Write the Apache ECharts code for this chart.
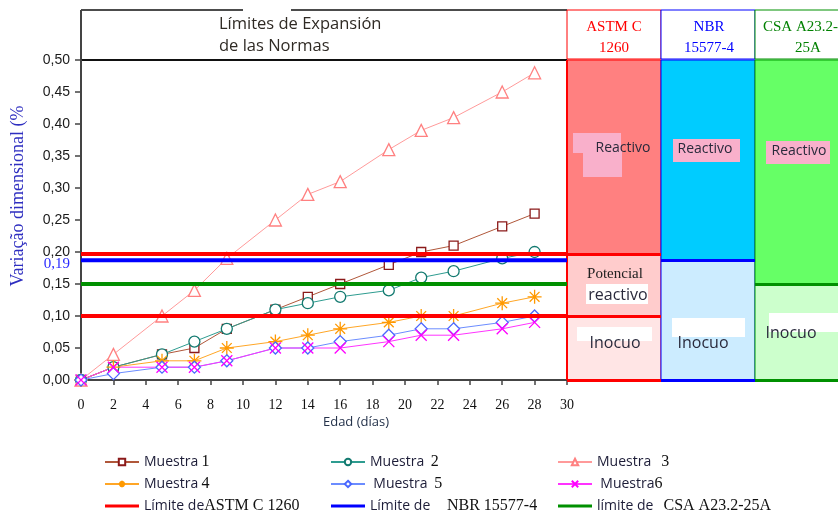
<!DOCTYPE html>
<html><head><meta charset="utf-8">
<script src="https://cdn.jsdelivr.net/npm/echarts@6/dist/echarts.min.js"></script>
<style>html,body{margin:0;padding:0;background:#fff}#c{width:838px;height:518px}</style>
</head><body><div id="c"></div>
<script>
// ---- data ----
const days = [0,2,5,7,9,12,14,16,19,21,23,26,28];
const muestra1 = [0,0.02,0.04,0.05,0.08,0.11,0.13,0.15,0.18,0.20,0.21,0.24,0.26];
const muestra2 = [0,0.02,0.04,0.06,0.08,0.11,0.12,0.13,0.14,0.16,0.17,0.19,0.20];
const muestra3 = [0,0.04,0.10,0.14,0.19,0.25,0.29,0.31,0.36,0.39,0.41,0.45,0.48];
const muestra4 = [0,0.02,0.03,0.03,0.05,0.06,0.07,0.08,0.09,0.10,0.10,0.12,0.13];
const muestra5 = [0,0.01,0.02,0.02,0.03,0.05,0.05,0.06,0.07,0.08,0.08,0.09,0.10];
const muestra6 = [0,0.02,0.02,0.02,0.03,0.05,0.05,0.05,0.06,0.07,0.07,0.08,0.09];
const astmLimits = [0.10, 0.197];
const nbrLimit = 0.187;
const csaLimit = 0.15;
const xMin = 0, xMax = 30, xStep = 2;
const yMin = 0, yMax = 0.5, yStep = 0.05;
const nbrLabel = '0,19';

const SANS = "'Open Sans', 'Noto Sans', sans-serif";
const SERIF = "'Liberation Serif', 'DejaVu Serif', serif";

const pairs = arr => days.map((d, i) => [d, arr[i]]);
const asterisk = 'path://M0,-10L0,10M-10,0L10,0M-7,-7L7,7M-7,7L7,-7';
const cross = 'path://M-10,-10L10,10M-10,10L10,-10';
const barIcon = 'path://M0,0L34,0L34,3L0,3Z';

function sample(name, arr, line, mark, symbol, size, filled) {
  return {
    name, type: 'line', data: pairs(arr), xAxisIndex: 0, yAxisIndex: 0,
    symbol, symbolSize: size, showAllSymbol: true,
    lineStyle: { color: line, width: 1 },
    itemStyle: { color: filled ? mark : '#fff', borderColor: mark, borderWidth: 1.3 },
    z: 3
  };
}
function limit(name, v, color, extra) {
  return Object.assign({
    name, type: 'line', data: [[xMin, v], [xMax, v]], xAxisIndex: 0, yAxisIndex: 0,
    symbol: 'none', lineStyle: { color, width: 4 }, itemStyle: { color }, z: 5
  }, extra || {});
}

const panelColors = {
  astm: ['#FFE5E5', '#FFCCCC', '#FF8080'],
  nbr: ['#CCECFF', '#00CCFF'],
  csa: ['#CCFFCC', '#66FF66']
};
function area(x0, x1, y0, y1, fill, border) {
  return [{ coord: [x0, y0], itemStyle: { color: fill, borderColor: border, borderWidth: 1, opacity: 1 } },
          { coord: [x1, y1] }];
}
function hline(x0, x1, y, color, w) {
  return [{ coord: [x0, y], lineStyle: { color, width: w, type: 'solid' } }, { coord: [x1, y] }];
}

const panelSeries = {
  type: 'line', xAxisIndex: 1, yAxisIndex: 1, data: [[0, 0]], symbol: 'none',
  lineStyle: { opacity: 0 }, silent: true, z: 1,
  markArea: {
    silent: true,
    data: [
      area(0, 1, yMin, astmLimits[0], panelColors.astm[0], '#FF0000'),
      area(0, 1, astmLimits[0], astmLimits[1], panelColors.astm[1], '#FF0000'),
      area(0, 1, astmLimits[1], yMax, panelColors.astm[2], '#FF0000'),
      area(1, 2, yMin, nbrLimit, panelColors.nbr[0], '#0000FF'),
      area(1, 2, nbrLimit, yMax, panelColors.nbr[1], '#0000FF'),
      area(2, 3, yMin, csaLimit, panelColors.csa[0], '#00A000'),
      area(2, 3, csaLimit, yMax, panelColors.csa[1], '#00A000')
    ]
  },
  markLine: {
    silent: true, symbol: 'none', label: { show: false },
    data: [
      hline(0, 1, astmLimits[0], '#FF0000', 3),
      hline(0, 1, astmLimits[1], '#FF0000', 3),
      hline(0, 1, yMin, '#FF0000', 3),
      hline(1, 2, nbrLimit, '#0000FF', 3),
      hline(1, 2, yMin, '#0000FF', 3),
      hline(2, 3, csaLimit, '#009000', 3),
      hline(2, 3, yMin, '#009000', 3),
      [{ coord: [0, yMin], lineStyle: { color: '#FF0000', width: 2, type: 'solid' } }, { coord: [0, yMax] }]
    ]
  }
};

const legendRich = {
  m: { fontFamily: SANS, fontSize: 14, color: '#1d1d38' },
  n: { fontFamily: SERIF, fontSize: 16, color: '#111' },
  s: { fontFamily: SERIF, fontSize: 16, color: '#111' }
};
const legendFmt = {
  'Muestra 1': '{m|Muestra} {n|1}',
  'Muestra 2': '{m|Muestra}  {n|2}',
  'Muestra 3': '{m|Muestra}   {n|3}',
  'Muestra 4': '{m|Muestra} {n|4}',
  'Muestra 5': ' {m|Muestra}  {n|5}',
  'Muestra 6': ' {m|Muestra}{n|6}',
  'Límite de ASTM C 1260': '{m|Límite de}{s|ASTM C 1260}',
  'Límite de NBR 15577-4': '{m|Límite de}     {s|NBR 15577-4}',
  'límite de CSA A23.2-25A': '{m|límite de}   {s|CSA A23.2-25A}'
};
function legend(left, names) {
  return {
    data: names.map(n => /mite/.test(n) ? { name: n, icon: barIcon } : n),
    left, top: 454, orient: 'vertical', itemWidth: 34, itemHeight: 8, itemGap: 6,
    selectedMode: false, padding: 0,
    formatter: n => legendFmt[n], textStyle: { rich: legendRich, lineHeight: 16 }
  };
}

const chart = echarts.init(document.getElementById('c'), null, { renderer: 'canvas' });
const fmt2 = v => v.toFixed(2).replace('.', ',');

chart.setOption({
  backgroundColor: '#fff',
  animation: false,
  grid: [
    { left: 81, top: 60, width: 486, height: 320, outerBoundsMode: 'none', containLabel: false },
    { left: 567, top: 60, width: 282, height: 320, outerBoundsMode: 'none', containLabel: false }
  ],
  xAxis: [
    { type: 'value', gridIndex: 0, min: xMin, max: xMax, interval: xStep,
      axisLine: { show: true, onZero: false, lineStyle: { color: '#444', width: 2 } },
      axisTick: { show: true, inside: false, length: 5, lineStyle: { color: '#444', width: 1.5 } },
      axisLabel: { show: true, margin: 18, fontFamily: SERIF, fontSize: 14, color: '#111', showMinLabel: true, showMaxLabel: true },
      splitLine: { show: false } },
    { type: 'value', gridIndex: 1, min: 0, max: 3, show: false, splitLine: { show: false } }
  ],
  yAxis: [
    { type: 'value', gridIndex: 0, min: yMin, max: yMax, interval: yStep,
      axisLine: { show: true, lineStyle: { color: '#444', width: 2 } },
      axisTick: { show: true, inside: false, length: 6, lineStyle: { color: '#444', width: 1.5 } },
      axisLabel: { margin: 11, fontFamily: "'Liberation Sans', Arial, sans-serif", fontSize: 14, color: '#1a1a1a',
                   formatter: fmt2, showMinLabel: true, showMaxLabel: true },
      splitLine: { show: false } },
    { type: 'value', gridIndex: 1, min: yMin, max: yMax, show: false, splitLine: { show: false } }
  ],
  legend: [
    legend(104, ['Muestra 1', 'Muestra 4', 'Límite de ASTM C 1260']),
    legend(330, ['Muestra 2', 'Muestra 5', 'Límite de NBR 15577-4']),
    legend(557, ['Muestra 3', 'Muestra 6', 'límite de CSA A23.2-25A'])
  ],
  series: [
    panelSeries,
    sample('Muestra 1', muestra1, '#B0573A', '#8B1A1A', 'rect', 9, false),
    sample('Muestra 2', muestra2, '#2E9C90', '#137A70', 'circle', 11, false),
    sample('Muestra 3', muestra3, '#FF9A9A', '#FF8080', 'triangle', 12, false),
    sample('Muestra 4', muestra4, '#FFA626', '#FF9900', asterisk, 14, true),
    sample('Muestra 5', muestra5, '#6B8CFF', '#4A68FF', 'diamond', 12, false),
    sample('Muestra 6', muestra6, '#FF33FF', '#FF00FF', cross, 11, true),
    limit('límite de CSA A23.2-25A', csaLimit, '#009000'),
    limit('Límite de ASTM C 1260', astmLimits[0], '#FF0000'),
    limit('Límite de ASTM C 1260', astmLimits[1], '#FF0000'),
    limit('Límite de NBR 15577-4', nbrLimit, '#0000FF', {
      markPoint: {
        symbol: 'circle', symbolSize: 0,
        data: [{ coord: [xMin, nbrLimit], label: { show: true, formatter: nbrLabel, position: 'left', distance: 11, offset: [0, 4],
                 fontFamily: SERIF, fontSize: 15, color: '#2B2BFF' } }]
      }
    })
  ],
  graphic: [
    // main header box
    { type: 'line', shape: { x1: 81, y1: 10, x2: 243, y2: 10 }, style: { stroke: '#111', lineWidth: 1.5 } },
    { type: 'line', shape: { x1: 291, y1: 10, x2: 567, y2: 10 }, style: { stroke: '#111', lineWidth: 1.5 } },
    { type: 'line', shape: { x1: 81, y1: 10, x2: 81, y2: 60 }, style: { stroke: '#444', lineWidth: 2 } },
    { type: 'line', shape: { x1: 81, y1: 60, x2: 567, y2: 60 }, style: { stroke: '#111', lineWidth: 2 } },
    { type: 'text', left: 219, top: 13, style: { text: 'Límites de Expansión\nde las Normas', fontFamily: SANS, fontSize: 16.5, lineHeight: 22, fill: '#2f2a24' } },
    // panel headers
    { type: 'rect', shape: { x: 567, y: 10, width: 94, height: 49 }, style: { fill: '#fff', stroke: '#FF0000', lineWidth: 1 } },
    { type: 'rect', shape: { x: 661, y: 10, width: 94, height: 49 }, style: { fill: '#fff', stroke: '#0000FF', lineWidth: 1 } },
    { type: 'rect', shape: { x: 755, y: 10, width: 94, height: 49 }, style: { fill: '#fff', stroke: '#009000', lineWidth: 1 } },
    { type: 'text', x: 614, y: 17, style: { text: 'ASTM C\n1260', textAlign: 'center', fontFamily: SERIF, fontSize: 15, lineHeight: 21, fill: '#FF0000' } },
    { type: 'text', x: 709, y: 17, style: { text: 'NBR\n15577-4', textAlign: 'center', fontFamily: SERIF, fontSize: 15, lineHeight: 21, fill: '#0000FF' } },
    { type: 'text', x: 763, y: 17, style: { text: 'CSA A23.2-', textAlign: 'left', fontFamily: SERIF, fontSize: 15, lineHeight: 21, fill: '#008000' } },
    { type: 'text', x: 808, y: 38, style: { text: '25A', textAlign: 'center', fontFamily: SERIF, fontSize: 15, lineHeight: 21, fill: '#008000' } },
    // annotation patches
    { type: 'rect', z: 100, shape: { x: 573, y: 133, width: 48, height: 20 }, style: { fill: '#F9B0CB' } },
    { type: 'rect', z: 100, shape: { x: 583, y: 150, width: 39, height: 27 }, style: { fill: '#F9B0CB' } },
    { type: 'rect', z: 100, shape: { x: 673, y: 139, width: 67, height: 23 }, style: { fill: '#F9B0CB' } },
    { type: 'rect', z: 100, shape: { x: 766, y: 141, width: 64, height: 23 }, style: { fill: '#F9B0CB' } },
    { type: 'rect', z: 100, shape: { x: 586, y: 284, width: 62, height: 20 }, style: { fill: '#fff' } },
    { type: 'rect', z: 100, shape: { x: 577, y: 327, width: 75, height: 14 }, style: { fill: '#fff' } },
    { type: 'rect', z: 100, shape: { x: 672, y: 318, width: 73, height: 19 }, style: { fill: '#fff' } },
    { type: 'rect', z: 100, shape: { x: 769, y: 313, width: 69, height: 19 }, style: { fill: '#fff' } },
    // annotation texts
    { type: 'text', z: 101, x: 623, y: 148, style: { text: 'Reactivo', textAlign: 'center', textVerticalAlign: 'middle', fontFamily: SANS, fontSize: 14, fill: '#2a2a3c' } },
    { type: 'text', z: 101, x: 705, y: 149, style: { text: 'Reactivo', textAlign: 'center', textVerticalAlign: 'middle', fontFamily: SANS, fontSize: 14, fill: '#2a2a3c' } },
    { type: 'text', z: 101, x: 799, y: 151, style: { text: 'Reactivo', textAlign: 'center', textVerticalAlign: 'middle', fontFamily: SANS, fontSize: 14, fill: '#2a2a3c' } },
    { type: 'text', z: 101, x: 615, y: 274, style: { text: 'Potencial', textAlign: 'center', textVerticalAlign: 'middle', fontFamily: SERIF, fontSize: 15, fill: '#222' } },
    { type: 'text', z: 101, x: 618, y: 295, style: { text: 'reactivo', textAlign: 'center', textVerticalAlign: 'middle', fontFamily: SANS, fontSize: 16, fill: '#2a2a3c' } },
    { type: 'text', z: 101, x: 615, y: 343, style: { text: 'Inocuo', textAlign: 'center', textVerticalAlign: 'middle', fontFamily: SANS, fontSize: 16, fill: '#2a2a3c' } },
    { type: 'text', z: 101, x: 703, y: 343, style: { text: 'Inocuo', textAlign: 'center', textVerticalAlign: 'middle', fontFamily: SANS, fontSize: 16, fill: '#2a2a3c' } },
    { type: 'text', z: 101, x: 791, y: 333, style: { text: 'Inocuo', textAlign: 'center', textVerticalAlign: 'middle', fontFamily: SANS, fontSize: 16, fill: '#2a2a3c' } },
    // axis names
    { type: 'text', x: 18, y: 196, rotation: Math.PI / 2, style: { text: 'Variação dimensional (%', textAlign: 'center', textVerticalAlign: 'middle', fontFamily: SERIF, fontSize: 18, fill: '#2E2EC0' } },
    { type: 'text', x: 356, y: 422, style: { text: 'Edad (días)', textAlign: 'center', textVerticalAlign: 'middle', fontFamily: SANS, fontSize: 13, fill: '#24324a' } }
  ]
});
</script></body></html>
